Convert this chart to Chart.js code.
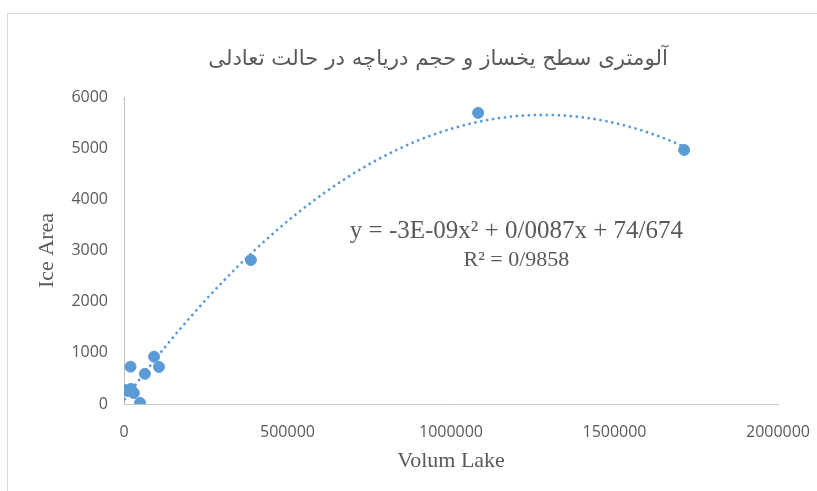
<!DOCTYPE html>
<html>
<head>
<meta charset="utf-8">
<script src="https://cdn.jsdelivr.net/npm/chart.js@4"></script>
<style>
  html, body { margin: 0; padding: 0; background: #fff; overflow: hidden; }
  #frame { position: absolute; left: 7px; top: 13px; width: 900px; height: 600px;
           border-top: 1px solid #d9d9d9; border-left: 1px solid #d9d9d9; }
  #wrap { position: absolute; left: 0; top: 0; width: 817px; height: 491px; }
</style>
</head>
<body>
<div id="frame"></div>
<div id="wrap"><canvas id="myChart" width="817" height="491"></canvas></div>
<script>
// داده ها (Volum Lake , Ice Area)
var volumLake = [1000, 12000, 21000, 30000, 49000, 20000, 64000, 92000, 107000, 388000, 1083000, 1713000];
var iceArea   = [275, 255, 295, 215, 20, 730, 590, 925, 725, 2814, 5690, 4965];

var xTicks = [0, 500000, 1000000, 1500000, 2000000];
var yTicks = [0, 1000, 2000, 3000, 4000, 5000, 6000];

var titre = 'آلومتری سطح یخساز و حجم دریاچه در حالت تعادلی';
var equation = 'y = -3E-09x² + 0/0087x + 74/674';
var r2text = 'R² = 0/9858';

var grisTexte = '#595959';
var bleu = '#5b9bd5';

// regression polynomiale (ordre 2) comme la courbe de tendance d'Excel
function fitQuad(xs, ys) {
    var s = [0, 0, 0, 0, 0], t = [0, 0, 0];
    for (var i = 0; i < xs.length; i++) {
        var x = xs[i] / 1e6, p = 1;
        for (var k = 0; k < 5; k++) { s[k] += p; if (k < 3) t[k] += p * ys[i]; p *= x; }
    }
    var m = [[s[0], s[1], s[2], t[0]], [s[1], s[2], s[3], t[1]], [s[2], s[3], s[4], t[2]]];
    for (var c = 0; c < 3; c++) {
        for (var r = c + 1; r < 3; r++) {
            var f = m[r][c] / m[c][c];
            for (var j = c; j < 4; j++) m[r][j] -= f * m[c][j];
        }
    }
    var sol = [0, 0, 0];
    for (var r2 = 2; r2 >= 0; r2--) {
        var v = m[r2][3];
        for (var j2 = r2 + 1; j2 < 3; j2++) v -= m[r2][j2] * sol[j2];
        sol[r2] = v / m[r2][r2];
    }
    return function (x) { var u = x / 1e6; return sol[0] + sol[1] * u + sol[2] * u * u; };
}

var tendance = fitQuad(volumLake, iceArea);
var xmax = Math.max.apply(null, volumLake);
var courbe = [];
for (var n = 0; n <= 80; n++) {
    var xv = xmax * n / 80;
    courbe.push({x: xv, y: tendance(xv)});
}

var points = volumLake.map(function (v, i) { return {x: v, y: iceArea[i]}; });

// titre + equation dessines a la main
var textePlugin = {
    id: 'textes',
    afterDatasetsDraw: function (chart) {
        var c = chart.ctx, xs = chart.scales.x, ys = chart.scales.y;
        c.save();
        c.fillStyle = grisTexte;
        c.textAlign = 'center';
        c.textBaseline = 'middle';
        c.font = '21.3px "DejaVu Sans"';
        c.fillText(titre, 438, 59);
        var cx = xs.getPixelForValue(1200000);
        c.font = '25px "Liberation Serif"';
        c.fillText(equation, cx, ys.getPixelForValue(3380));
        c.font = '22px "Liberation Serif"';
        c.fillText(r2text, cx, ys.getPixelForValue(2810));
        c.restore();
    }
};

var ctx = document.getElementById('myChart');
var graphique = new Chart(ctx.getContext('2d'), {
    type: 'scatter',
    data: {
        datasets: [{
            label: 'trend',
            type: 'line',
            data: courbe,
            borderColor: bleu,
            borderWidth: 2.5,
            borderDash: [2.5, 3.5],
            borderCapStyle: 'butt',
            pointRadius: 0,
            fill: false,
            tension: 0,
            order: 2
        }, {
            label: 'Ice Area',
            data: points,
            backgroundColor: bleu,
            borderColor: bleu,
            pointRadius: 5.5,
            order: 1
        }]
    },
    options: {
        responsive: false,
        animation: false,
        layout: { padding: { left: 0, right: 39, top: 97, bottom: 0 } },
        plugins: {
            legend: { display: false },
            tooltip: { enabled: false },
            title: { display: false }
        },
        scales: {
            x: {
                type: 'linear',
                min: 0, max: 2000000,
                afterBuildTicks: function (axis) { axis.ticks = xTicks.map(function (v) { return {value: v}; }); },
                afterFit: function (axis) { axis.height = 87; axis.paddingLeft = 0; axis.paddingRight = 0; },
                grid: { display: false, drawTicks: false },
                border: { display: true, color: '#c8c8c8', width: 1 },
                ticks: {
                    color: grisTexte, padding: 19, maxRotation: 0,
                    font: { family: '"Open Sans"', size: 16 },
                    callback: function (v) { return String(v); }
                },
                title: {
                    display: true, text: 'Volum Lake', color: grisTexte,
                    font: { family: '"Liberation Serif"', size: 22, lineHeight: 1.1 },
                    padding: { bottom: 18 }
                }
            },
            y: {
                min: 0, max: 6000,
                afterBuildTicks: function (axis) { axis.ticks = yTicks.map(function (v) { return {value: v}; }); },
                afterFit: function (axis) { axis.width = 124; axis.paddingTop = 0; axis.paddingBottom = 0; },
                grid: { display: false, drawTicks: false },
                border: { display: true, color: '#c0c0c0', width: 1 },
                ticks: {
                    color: grisTexte, padding: 16,
                    font: { family: '"Open Sans"', size: 16 },
                    callback: function (v) { return String(v); }
                },
                title: {
                    display: true, text: 'Ice Area', color: grisTexte,
                    font: { family: '"Liberation Serif"', size: 22, lineHeight: 1.1 },
                    padding: { top: 35 }
                }
            }
        }
    },
    plugins: [textePlugin]
});
</script>
</body>
</html>
